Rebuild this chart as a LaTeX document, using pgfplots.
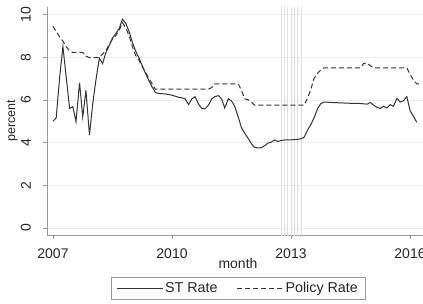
\documentclass[border=0pt]{standalone}
\usepackage{fontspec}
\setmainfont{Liberation Sans}
\usepackage{pgfplots}
\pgfplotsset{compat=1.18}
\usetikzlibrary{calc}

\begin{document}
\begin{tikzpicture}
\begin{axis}[
  name=ax,
  scale only axis,
  width=376pt, height=228pt,
  xmin=2006.849, xmax=2016.327,
  ymin=-0.328, ymax=10.35,
  axis x line*=bottom, axis y line*=left,
  axis line style={gray!80, line width=0.5pt, -},
  tick style={gray!80, line width=0.5pt},
  tick align=outside, major tick length=4pt,
  xtick={2007,2010,2013,2016},
  xticklabels={2007,2010,2013,2016},
  ytick={0,2,4,6,8,10},
  minor tick num=0,
  ymajorgrids, major grid style={gray!15, line width=0.6pt},
  /pgf/number format/assume math mode=true,
  ticklabel style={font=\fontsize{14}{16}\selectfont, text=black!85},
  xticklabel style={anchor=north, inner sep=0pt},
  xticklabel shift=10pt,
  yticklabel style={rotate=90, anchor=south, inner sep=0pt},
  yticklabel shift=12pt,
  xlabel={month},
  every axis x label/.style={font=\fontsize{14}{16}\selectfont, text=black!85, at={(axis description cs:0.508,-0.127)}, anchor=center},
  ylabel={percent},
  ylabel style={font=\fontsize{12.5}{14}\selectfont, text=black!85, inner sep=0pt},
  ylabel shift=3pt,
  legend columns=2,
  legend style={at={(axis description cs:0.508,-0.184)}, anchor=north,
    draw=gray!80, line width=0.5pt, font=\fontsize{14.3}{16}\selectfont, text=black!85,
    inner xsep=5pt, inner ysep=3pt,
    /tikz/every even column/.append style={column sep=17pt}},
  legend image code/.code={\draw[#1] (0pt,0pt) -- (43pt,0pt); \path (0pt,0pt) -- (46pt,0pt);},
]
\pgfplotsinvokeforeach{2012.75,2012.833,2012.917,2013.0,2013.083,2013.167,2013.25}{
  \addplot[gray!25, line width=0.5pt, forget plot] coordinates {(#1,-1) (#1,11)};
}
\addplot[black!80, line width=1pt] coordinates {
(2007.00,5.0) (2007.08,5.15) (2007.17,7.1) (2007.25,8.5) (2007.33,7.1)
(2007.42,5.6) (2007.50,5.68) (2007.58,4.98) (2007.67,6.8) (2007.75,5.2)
(2007.83,6.45) (2007.92,4.35) (2008.00,5.8) (2008.08,6.9) (2008.13,7.5)
(2008.17,7.95) (2008.25,7.7) (2008.33,8.2) (2008.42,8.55) (2008.50,8.9)
(2008.58,9.1) (2008.67,9.35) (2008.75,9.78) (2008.83,9.6) (2008.92,9.2)
(2009.00,8.7) (2009.08,8.3) (2009.17,7.95) (2009.25,7.6) (2009.33,7.25)
(2009.42,6.9) (2009.50,6.6) (2009.58,6.35) (2009.67,6.3) (2009.83,6.28)
(2010.00,6.22) (2010.17,6.12) (2010.25,6.1) (2010.33,6.05) (2010.42,5.78)
(2010.50,6.05) (2010.58,6.15) (2010.67,5.8) (2010.75,5.6) (2010.83,5.58)
(2010.92,5.75) (2011.00,6.05) (2011.08,6.15) (2011.17,6.2) (2011.25,6.05)
(2011.33,5.62) (2011.42,6.05) (2011.50,5.95) (2011.58,5.7) (2011.67,5.2)
(2011.75,4.7) (2011.83,4.45) (2011.92,4.2) (2012.00,3.95) (2012.08,3.78)
(2012.17,3.75) (2012.25,3.76) (2012.33,3.85) (2012.42,3.98) (2012.50,4.02)
(2012.58,4.12) (2012.67,4.05) (2012.75,4.1) (2012.83,4.12) (2013.00,4.13)
(2013.17,4.15) (2013.25,4.18) (2013.33,4.25) (2013.42,4.6) (2013.50,4.85)
(2013.58,5.15) (2013.67,5.6) (2013.75,5.82) (2013.83,5.9) (2014.00,5.88)
(2014.25,5.86) (2014.50,5.84) (2014.75,5.83) (2014.92,5.8) (2015.00,5.88)
(2015.08,5.75) (2015.17,5.65) (2015.25,5.6) (2015.33,5.7) (2015.42,5.62)
(2015.50,5.78) (2015.58,5.7) (2015.67,6.07) (2015.75,5.9) (2015.83,5.95)
(2015.92,6.15) (2016.00,5.5) (2016.08,5.25) (2016.17,4.95)
};
\addlegendentry{ST Rate}
\addplot[black!80, line width=1pt, dash pattern=on 5pt off 3pt] coordinates {
(2007.00,9.45) (2007.08,9.2) (2007.17,8.95) (2007.25,8.75) (2007.33,8.5)
(2007.42,8.3) (2007.50,8.22) (2007.75,8.22) (2007.83,8.05) (2007.92,7.98)
(2008.17,7.98) (2008.25,8.15) (2008.33,8.3) (2008.42,8.6) (2008.50,8.85)
(2008.58,9.0) (2008.67,9.25) (2008.75,9.62) (2008.83,9.4) (2008.92,9.0)
(2009.00,8.5) (2009.08,8.1) (2009.17,7.85) (2009.25,7.55) (2009.33,7.3)
(2009.42,7.0) (2009.50,6.75) (2009.58,6.5) (2010.92,6.5) (2011.00,6.58)
(2011.08,6.75) (2011.67,6.75) (2011.75,6.45) (2011.83,6.05) (2011.92,6.0)
(2012.00,5.9) (2012.08,5.75) (2013.33,5.75) (2013.42,6.1) (2013.50,6.5)
(2013.58,7.0) (2013.67,7.25) (2013.75,7.4) (2013.83,7.5) (2014.75,7.5)
(2014.83,7.7) (2014.92,7.72) (2015.00,7.6) (2015.08,7.5) (2015.92,7.5)
(2016.00,7.2) (2016.08,6.95) (2016.17,6.75) (2016.25,6.75)
};
\addlegendentry{Policy Rate\hspace{4pt}}
\end{axis}
\pgfresetboundingbox
\path ($(ax.south west)+(-47pt,-68pt)$) rectangle ($(ax.north east)+(0pt,7pt)$);
\end{tikzpicture}
\end{document}
